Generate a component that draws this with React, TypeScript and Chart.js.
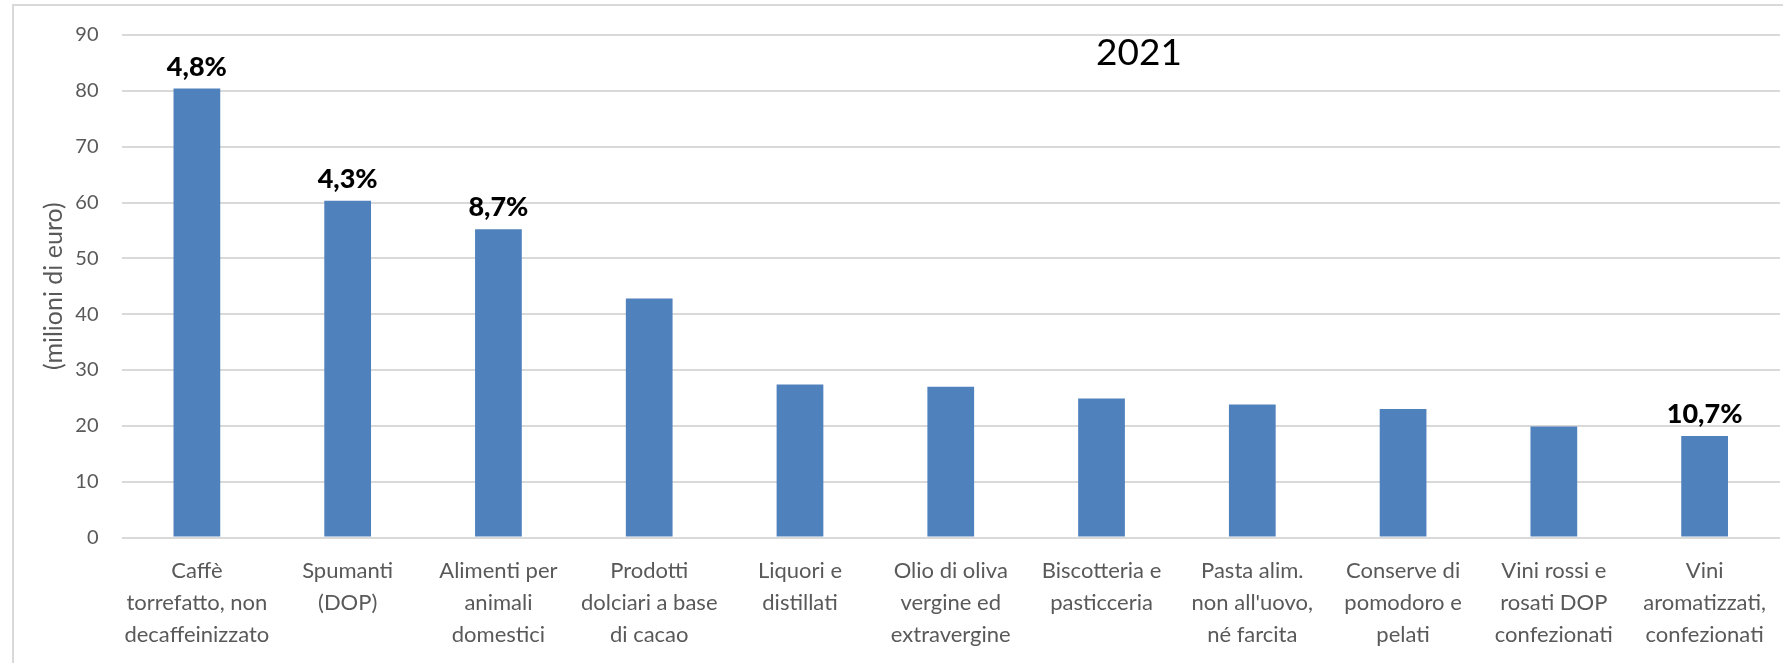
import React, { useEffect, useRef } from "react";
import { Chart, registerables } from "chart.js";

Chart.register(...registerables);

const categories: string[][] = [
  ["Caffè", "torrefatto, non", "decaffeinizzato"],
  ["Spumanti", "(DOP)"],
  ["Alimenti per", "animali", "domestici"],
  ["Prodotti", "dolciari a base", "di cacao"],
  ["Liquori e", "distillati"],
  ["Olio di oliva", "vergine ed", "extravergine"],
  ["Biscotteria e", "pasticceria"],
  ["Pasta alim.", "non all'uovo,", "né farcita"],
  ["Conserve di", "pomodoro e", "pelati"],
  ["Vini rossi e", "rosati DOP", "confezionati"],
  ["Vini", "aromatizzati,", "confezionati"],
];

const values: number[] = [80.4, 60.3, 55.2, 42.8, 27.4, 27.0, 24.9, 23.8, 23.0, 19.9, 18.2];

const growthLabels: string[] = ["4,8%", "4,3%", "8,7%", "", "", "", "", "", "", "", "10,7%"];

const yMin = 0;
const yMax = 90;
const yStep = 10;

const chartTitle = "2021";
const yAxisTitle = "(milioni di euro)";

const FONT = "Lato, 'Open Sans', 'DejaVu Sans', sans-serif";
const W = 1783;
const H = 663;

export default function App() {
  const canvasRef = useRef<HTMLCanvasElement | null>(null);

  useEffect(() => {
    const canvas = canvasRef.current;
    if (!canvas) return;

    const framePlugin = {
      id: "frame",
      beforeDraw(chart: any) {
        const { ctx, width, height } = chart;
        ctx.save();
        ctx.fillStyle = "#ffffff";
        ctx.fillRect(0, 0, width, height);
        ctx.strokeStyle = "#d9d9d9";
        ctx.lineWidth = 2;
        ctx.beginPath();
        ctx.moveTo(13, height);
        ctx.lineTo(13, 5);
        ctx.lineTo(width, 5);
        ctx.stroke();
        ctx.restore();
      },
    };

    const annotationPlugin = {
      id: "annotations",
      afterDatasetsDraw(chart: any) {
        const { ctx, chartArea } = chart;
        const meta = chart.getDatasetMeta(0);
        ctx.save();
        ctx.fillStyle = "#000000";
        ctx.font = `900 27px ${FONT}`;
        ctx.textAlign = "center";
        ctx.textBaseline = "alphabetic";
        meta.data.forEach((bar: any, i: number) => {
          const t = growthLabels[i];
          if (t) ctx.fillText(t, bar.x, bar.y - 13);
        });
        ctx.font = `37px ${FONT}`;
        ctx.fillText(
          chartTitle,
          chartArea.left + chartArea.width * 0.6135,
          chartArea.top + 30
        );
        ctx.restore();
      },
    };

    const chart = new Chart(canvas, {
      type: "bar",
      data: {
        labels: categories,
        datasets: [
          {
            data: values,
            backgroundColor: "#4F81BD",
            borderWidth: 0,
            barPercentage: 0.31,
            categoryPercentage: 1,
          },
        ],
      },
      options: {
        responsive: false,
        animation: false,
        devicePixelRatio: 1,
        layout: { padding: { top: 32, right: 1.5, left: 0, bottom: 0 } },
        plugins: {
          legend: { display: false },
          tooltip: { enabled: false },
          title: { display: false },
        },
        scales: {
          x: {
            grid: { display: false, drawTicks: false },
            border: { display: false },
            ticks: {
              color: "#595959",
              font: { family: FONT, size: 22, lineHeight: "32px" },
              padding: 17,
              autoSkip: false,
              maxRotation: 0,
              minRotation: 0,
            },
            afterFit(scale: any) {
              scale.height = 125.5;
            },
          },
          y: {
            min: yMin,
            max: yMax,
            grid: { color: "#d9d9d9", lineWidth: 2, drawTicks: false },
            border: { display: false },
            ticks: {
              stepSize: yStep,
              color: "#595959",
              font: { family: FONT, size: 20 },
              padding: 23,
            },
            title: {
              display: true,
              text: yAxisTitle,
              color: "#595959",
              font: { family: FONT, size: 25, lineHeight: 1.2 },
              padding: { top: 39, bottom: 0 },
            },
            afterFit(scale: any) {
              scale.width = 121.5;
            },
          },
        },
      },
      plugins: [framePlugin, annotationPlugin],
    });

    return () => {
      chart.destroy();
    };
  }, []);

  return (
    <div style={{ position: "fixed", left: 0, top: 0, width: W, height: H, background: "#fff" }}>
      <canvas ref={canvasRef} width={W} height={H} style={{ display: "block", width: W, height: H }} />
    </div>
  );
}
